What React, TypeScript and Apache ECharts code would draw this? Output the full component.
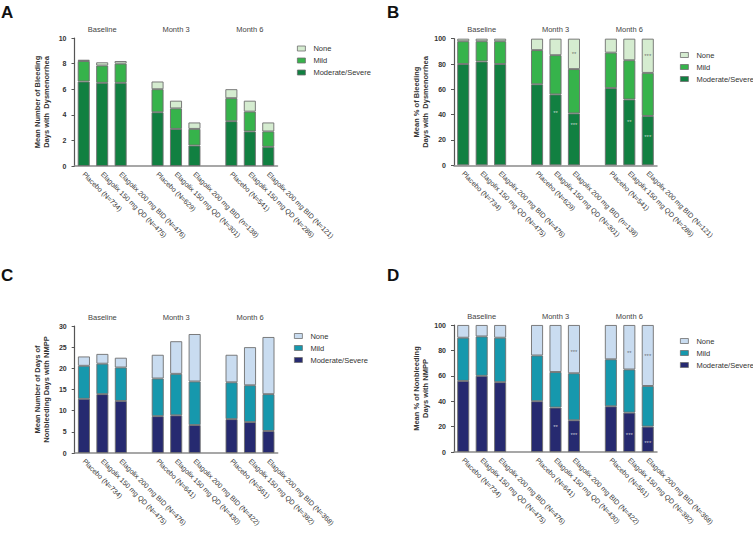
import React, { useEffect, useRef } from "react";
import * as echarts from "echarts";

const categoriesAB = [
  "Placebo (N=734)", "Elagolix 150 mg QD (N=475)", "Elagolix 200 mg BID (N=476)", "",
  "Placebo (N=629)", "Elagolix 150 mg QD (N=301)", "Elagolix 200 mg BID (n=138)", " ",
  "Placebo (N=541)", "Elagolix 150 mg QD (N=286)", "Elagolix 200 mg BID (N=121)",
];
const categoriesCD = [
  "Placebo (N=734)", "Elagolix 150 mg QD (N=475)", "Elagolix 200 mg BID (N=476)", "",
  "Placebo (N=641)", "Elagolix 150 mg QD (N=430)", "Elagolix 200 mg BID (N=422)", " ",
  "Placebo (N=561)", "Elagolix 150 mg QD (N=382)", "Elagolix 200 mg BID (N=368)",
];
const groups = ["Baseline", "Month 3", "Month 6"];
const legendNames = ["None", "Mild", "Moderate/Severe"];

// Panel A: mean number of bleeding days with dysmenorrhea
const aModerate = [6.6, 6.5, 6.5, "-", 4.2, 2.9, 1.6, "-", 3.5, 2.7, 1.5];
const aMild = [1.6, 1.35, 1.5, "-", 1.8, 1.6, 1.3, "-", 1.8, 1.55, 1.2];
const aNone = [0.1, 0.25, 0.2, "-", 0.6, 0.6, 0.5, "-", 0.7, 0.85, 0.7];

// Panel B: mean % of bleeding days with dysmenorrhea
const bModerate = [80, 82, 80, "-", 64, 56, 41, "-", 61, 52, 39];
const bMild = [18, 16, 18, "-", 27, 31, 35, "-", 28, 31, 34];
const bNone = [2, 2, 2, "-", 9, 13, 24, "-", 11, 17, 27];

// Panel C: mean number of nonbleeding days with NMPP
const cModerate = [12.8, 13.9, 12.3, "-", 8.7, 8.9, 6.6, "-", 8.0, 7.3, 5.2];
const cMild = [7.8, 7.2, 7.9, "-", 8.9, 9.8, 10.3, "-", 8.7, 8.7, 8.7];
const cNone = [2.2, 2.3, 2.3, "-", 5.6, 7.7, 11.2, "-", 6.5, 9.0, 13.5];

// Panel D: mean % of nonbleeding days with NMPP
const dModerate = [56, 60, 55, "-", 40, 35, 25, "-", 36, 31, 20];
const dMild = [34, 31, 35, "-", 36, 28, 37, "-", 37, 34, 32];
const dNone = [10, 9, 10, "-", 24, 37, 38, "-", 27, 35, 48];

// significance markers: [category index, value, text]
const bSigDark = [[5, 41.5, "**"], [6, 32, "***"], [9, 34, "**"], [10, 22.6, "***"]];
const bSigLight = [[6, 88, "**"], [10, 86, "***"]];
const dSigDark = [[5, 19.4, "**"], [6, 13.6, "***"], [9, 13.1, "***"], [10, 7.3, "***"]];
const dSigLight = [[6, 78.7, "***"], [9, 78.2, "**"], [10, 75.6, "***"]];

const FONT = "Liberation Sans, Arial, sans-serif";
const GREENS = { mod: "#118041", mild: "#36b34b", none: "#d5ecd0" };
const BLUES = { mod: "#262a70", mild: "#1698ad", none: "#c9dcf0" };
const BORDER = "#6e6e6e";

export default function App() {
  const ref = useRef<HTMLDivElement>(null);
  useEffect(() => {
    document.body.style.margin = "0";
    if (!ref.current) return;
    const chart = echarts.init(ref.current, undefined, { renderer: "svg" });

    const grids = [
      { left: 74.5, top: 38, width: 203, height: 128 },
      { left: 454, top: 38.7, width: 203, height: 126.6 },
      { left: 74.7, top: 326, width: 203, height: 127 },
      { left: 454, top: 325, width: 203, height: 127 },
    ];
    const cats = [categoriesAB, categoriesAB, categoriesCD, categoriesCD];
    const yCfg = [
      { max: 10, interval: 2, name: "Mean Number of Bleeding\nDays with  Dysmenorrhea" },
      { max: 100, interval: 20, name: "Mean % of Bleeding\nDays with  Dysmenorrhea" },
      { max: 30, interval: 5, name: "Mean Number of Days of\nNonbleeding Days with NMPP" },
      { max: 100, interval: 20, name: "Mean % of Nonbleeding\nDays with NMPP" },
    ];
    const dataSets = [
      [aModerate, aMild, aNone],
      [bModerate, bMild, bNone],
      [cModerate, cMild, cNone],
      [dModerate, dMild, dNone],
    ];
    const palettes = [GREENS, GREENS, BLUES, BLUES];

    const xAxis: any[] = [];
    const yAxis: any[] = [];
    const series: any[] = [];
    grids.forEach((g, i) => {
      xAxis.push({
        type: "category",
        gridIndex: i,
        data: cats[i],
        position: "bottom",
        axisLine: { lineStyle: { color: "#8a8a8a", width: 1.5 } },
        axisTick: { show: false },
        axisLabel: {
          interval: 0,
          rotate: -45,
          fontSize: 7,
          color: "#333",
          margin: 7,
          fontFamily: FONT,
        },
      });
      xAxis.push({
        type: "category",
        gridIndex: i,
        data: cats[i],
        position: "top",
        axisLine: { show: false },
        axisTick: { show: false },
        axisLabel: {
          interval: 0,
          fontSize: 7.5,
          color: "#444",
          margin: 5,
          fontFamily: FONT,
          formatter: (_v: string, idx: number) => (idx % 4 === 1 ? groups[(idx - 1) / 4] : ""),
        },
      });
      yAxis.push({
        type: "value",
        gridIndex: i,
        min: 0,
        max: yCfg[i].max,
        interval: yCfg[i].interval,
        name: yCfg[i].name,
        nameLocation: "middle",
        nameGap: 24,
        nameTextStyle: {
          fontSize: 7.5,
          fontWeight: "bold",
          color: "#333",
          lineHeight: 9,
          fontFamily: FONT,
        },
        axisLine: { show: true, lineStyle: { color: "#555", width: 1.2 } },
        axisTick: { show: true, length: 3, lineStyle: { color: "#555" } },
        splitLine: { show: false },
        axisLabel: {
          fontSize: 7,
          fontWeight: "bold",
          color: "#333",
          margin: 8,
          fontFamily: FONT,
        },
      });
      const pal = palettes[i];
      const [mod, mild, none] = dataSets[i];
      const mk = (name: string, data: any[], color: string) => ({
        type: "bar",
        name,
        xAxisIndex: i * 2,
        yAxisIndex: i,
        stack: "s" + i,
        data,
        barWidth: 12,
        itemStyle: { color, borderColor: BORDER, borderWidth: 0.9 },
      });
      series.push(mk("Moderate/Severe", mod, pal.mod));
      series.push(mk("Mild", mild, pal.mild));
      series.push(mk("None", none, pal.none));
    });

    const sig = (gi: number, arr: any[], color: string) => ({
      type: "scatter",
      xAxisIndex: gi * 2,
      yAxisIndex: gi,
      symbolSize: 1,
      itemStyle: { color: "transparent" },
      silent: true,
      data: arr.map((d) => ({ value: [d[0], d[1]], name: d[2] })),
      label: {
        show: true,
        position: "inside",
        formatter: (p: any) => p.name,
        fontSize: 6,
        color,
        fontFamily: FONT,
      },
      z: 10,
    });
    series.push(sig(1, bSigDark, "#e6e6e6"));
    series.push(sig(1, bSigLight, "#555"));
    series.push(sig(3, dSigDark, "#e6e6e6"));
    series.push(sig(3, dSigLight, "#555"));

    const legendPos = [
      { left: 297, top: 43.5 },
      { left: 680, top: 50 },
      { left: 294, top: 331 },
      { left: 680, top: 336 },
    ];
    const legend = legendPos.map((p, i) => {
      const pal = palettes[i];
      const colors = [pal.none, pal.mild, pal.mod];
      return {
        orient: "vertical",
        left: p.left,
        top: p.top,
        padding: 0,
        itemWidth: 8,
        itemHeight: 5,
        itemGap: 2,
        icon: "rect",
        selectedMode: false,
        textStyle: {
          fontSize: 7.5,
          color: "#333",
          lineHeight: 10,
          fontFamily: FONT,
          padding: [0, 0, 0, 3],
        },
        data: legendNames.map((n, k) => ({
          name: n,
          itemStyle: { color: colors[k], borderColor: BORDER, borderWidth: 0.8 },
        })),
      };
    });

    const letters = [
      { text: "A", left: 1, top: 4 },
      { text: "B", left: 387, top: 4 },
      { text: "C", left: 1, top: 267 },
      { text: "D", left: 387, top: 267 },
    ];

    chart.setOption({
      animation: false,
      backgroundColor: "#fff",
      textStyle: { fontFamily: FONT },
      title: letters.map((l) => ({
        text: l.text,
        left: l.left,
        top: l.top,
        padding: 0,
        textStyle: { fontSize: 17, fontWeight: "bold", color: "#111", fontFamily: FONT },
      })),
      grid: grids.map((g) => ({ ...g, containLabel: false, outerBoundsMode: "none" })),
      legend,
      xAxis,
      yAxis,
      series,
    });
    return () => chart.dispose();
  }, []);
  return <div ref={ref} style={{ width: 753, height: 536 }} />;
}
